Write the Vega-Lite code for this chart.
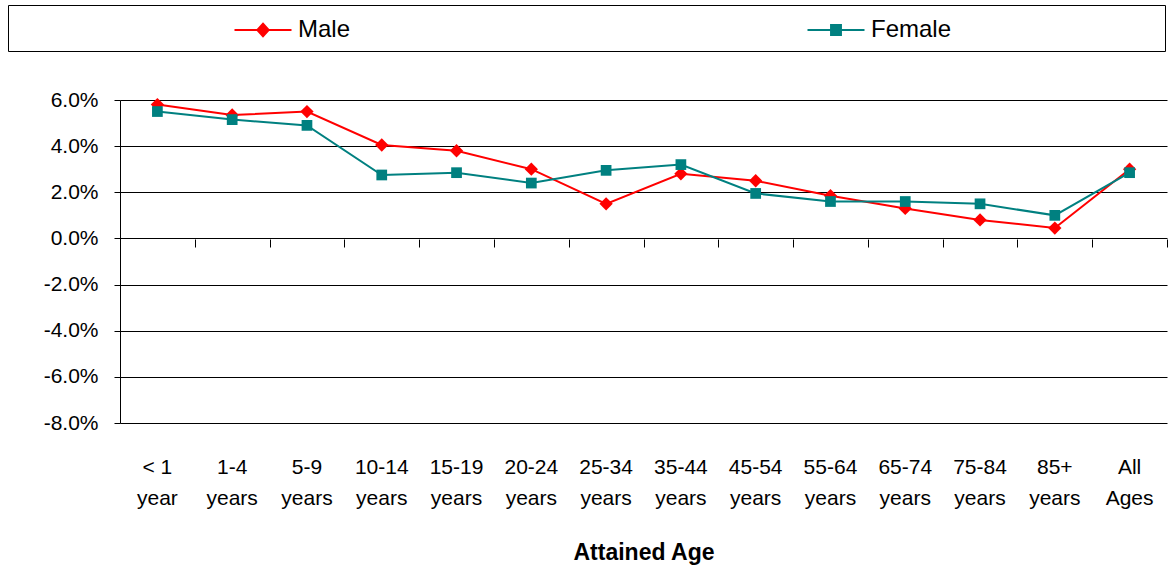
{
  "$schema": "https://vega.github.io/schema/vega-lite/v6.json",
  "width": 1047,
  "height": 323,
  "autosize": {"type": "none"},
  "padding": {"left": 120, "top": 100, "right": 1, "bottom": 144},
  "background": "white",
  "config": {
    "view": {"stroke": null},
    "font": "Liberation Sans, Arial, sans-serif"
  },
  "data": {
    "values": [
      {"age": "< 1 year", "sex": "Male", "rate": 0.058},
      {"age": "1-4 years", "sex": "Male", "rate": 0.0535},
      {"age": "5-9 years", "sex": "Male", "rate": 0.055},
      {"age": "10-14 years", "sex": "Male", "rate": 0.0405},
      {"age": "15-19 years", "sex": "Male", "rate": 0.038},
      {"age": "20-24 years", "sex": "Male", "rate": 0.030},
      {"age": "25-34 years", "sex": "Male", "rate": 0.015},
      {"age": "35-44 years", "sex": "Male", "rate": 0.028},
      {"age": "45-54 years", "sex": "Male", "rate": 0.025},
      {"age": "55-64 years", "sex": "Male", "rate": 0.0185},
      {"age": "65-74 years", "sex": "Male", "rate": 0.013},
      {"age": "75-84 years", "sex": "Male", "rate": 0.008},
      {"age": "85+ years", "sex": "Male", "rate": 0.0045},
      {"age": "All Ages", "sex": "Male", "rate": 0.030},
      {"age": "< 1 year", "sex": "Female", "rate": 0.055},
      {"age": "1-4 years", "sex": "Female", "rate": 0.0515},
      {"age": "5-9 years", "sex": "Female", "rate": 0.049},
      {"age": "10-14 years", "sex": "Female", "rate": 0.0275},
      {"age": "15-19 years", "sex": "Female", "rate": 0.0285},
      {"age": "20-24 years", "sex": "Female", "rate": 0.024},
      {"age": "25-34 years", "sex": "Female", "rate": 0.0295},
      {"age": "35-44 years", "sex": "Female", "rate": 0.032},
      {"age": "45-54 years", "sex": "Female", "rate": 0.0195},
      {"age": "55-64 years", "sex": "Female", "rate": 0.016},
      {"age": "65-74 years", "sex": "Female", "rate": 0.016},
      {"age": "75-84 years", "sex": "Female", "rate": 0.015},
      {"age": "85+ years", "sex": "Female", "rate": 0.010},
      {"age": "All Ages", "sex": "Female", "rate": 0.0285}
    ]
  },
  "encoding": {
    "y": {
      "field": "rate",
      "type": "quantitative",
      "scale": {"domain": [-0.08, 0.06], "nice": false, "zero": false},
      "axis": {
        "title": null,
        "format": ".1%",
        "labelExpr": "replace(datum.label, '\u2212', '-')",
        "values": [-0.08, -0.06, -0.04, -0.02, 0, 0.02, 0.04, 0.06],
        "grid": true,
        "gridColor": "#000",
        "gridOpacity": 1,
        "gridWidth": 1,
        "domainColor": "#000",
        "domainWidth": 1,
        "tickColor": "#000",
        "tickSize": 6,
        "labelFontSize": 21,
        "labelColor": "#000",
        "labelPadding": 16
      }
    }
  },
  "layer": [
    {
      "transform": [{"filter": "datum.sex == 'Male'"}],
      "mark": {"type": "line", "strokeWidth": 2, "color": "#FF0000"},
      "encoding": {
        "x": {
          "field": "age",
          "type": "ordinal",
          "sort": ["< 1 year", "1-4 years", "5-9 years", "10-14 years", "15-19 years", "20-24 years", "25-34 years", "35-44 years", "45-54 years", "55-64 years", "65-74 years", "75-84 years", "85+ years", "All Ages"],
          "scale": {"type": "band", "paddingInner": 0, "paddingOuter": 0},
          "bandPosition": 0.5,
          "axis": {
            "orient": "bottom",
            "title": "Attained Age",
            "titleFontSize": 23,
            "titleFontWeight": "bold",
            "titleColor": "#000",
            "titlePadding": 33,
            "labelAngle": 0,
            "labelFontSize": 21,
            "labelLineHeight": 31,
            "labelPadding": 33,
            "labelBaseline": "top",
            "labelColor": "#000",
            "ticks": false,
            "tickSize": 0,
            "domain": false,
            "grid": false,
            "labelExpr": "datum.value == '< 1 year' ? ['< 1', 'year'] : split(datum.value, ' ')"
          }
        }
      }
    },
    {
      "transform": [{"filter": "datum.sex == 'Male'"}],
      "mark": {"type": "point", "filled": true, "opacity": 1, "shape": "diamond", "size": 177, "color": "#FF0000"},
      "encoding": {
        "x": {
          "field": "age",
          "type": "ordinal",
          "sort": ["< 1 year", "1-4 years", "5-9 years", "10-14 years", "15-19 years", "20-24 years", "25-34 years", "35-44 years", "45-54 years", "55-64 years", "65-74 years", "75-84 years", "85+ years", "All Ages"],
          "bandPosition": 0.5,
          "axis": {
            "orient": "bottom",
            "offset": -184,
            "labels": false,
            "title": null,
            "ticks": true,
            "tickBand": "extent",
            "tickSize": 8,
            "tickColor": "#000",
            "domain": false,
            "grid": false
          }
        }
      }
    },
    {
      "transform": [{"filter": "datum.sex == 'Female'"}],
      "mark": {"type": "line", "strokeWidth": 2, "color": "#008080"},
      "encoding": {
        "x": {
          "field": "age",
          "type": "ordinal",
          "sort": ["< 1 year", "1-4 years", "5-9 years", "10-14 years", "15-19 years", "20-24 years", "25-34 years", "35-44 years", "45-54 years", "55-64 years", "65-74 years", "75-84 years", "85+ years", "All Ages"],
          "bandPosition": 0.5,
          "axis": null
        }
      }
    },
    {
      "transform": [{"filter": "datum.sex == 'Female'"}],
      "mark": {"type": "point", "filled": true, "opacity": 1, "shape": "square", "size": 115, "color": "#008080"},
      "encoding": {
        "x": {
          "field": "age",
          "type": "ordinal",
          "sort": ["< 1 year", "1-4 years", "5-9 years", "10-14 years", "15-19 years", "20-24 years", "25-34 years", "35-44 years", "45-54 years", "55-64 years", "65-74 years", "75-84 years", "85+ years", "All Ages"],
          "bandPosition": 0.5,
          "axis": null
        }
      }
    },
    {
      "transform": [{"filter": "false"}],
      "mark": {"type": "point", "filled": true, "opacity": 1, "strokeWidth": 2},
      "encoding": {
        "x": {
          "field": "age",
          "type": "ordinal",
          "sort": ["< 1 year", "1-4 years", "5-9 years", "10-14 years", "15-19 years", "20-24 years", "25-34 years", "35-44 years", "45-54 years", "55-64 years", "65-74 years", "75-84 years", "85+ years", "All Ages"],
          "bandPosition": 0.5,
          "axis": null
        },
        "color": {
          "field": "sex",
          "type": "nominal",
          "scale": {"domain": ["Male", "Female"], "range": ["#FF0000", "#008080"]},
          "legend": {
            "orient": "none",
            "legendX": -112,
            "legendY": -95,
            "direction": "horizontal",
            "columnPadding": 452,
            "title": "\u00a0",
            "titleOrient": "left",
            "titleFontSize": 2,
            "titlePadding": 230,
            "padding": 9,
            "strokeColor": "#000",
            "fillColor": "#fff",
            "labelFontSize": 24,
            "labelColor": "#000",
            "labelOffset": 19,
            "labelLimit": 800,
            "symbolSize": 900,
            "symbolStrokeWidth": 2,
            "symbolOpacity": 1,
            "labelExpr": "datum.label == 'Female' ? 'Female\u00a0' + pad('', 11, '\u2800') : datum.label"
          }
        },
        "stroke": {
          "field": "sex",
          "type": "nominal",
          "scale": {"domain": ["Male", "Female"], "range": ["#FF0000", "#008080"]}
        },
        "shape": {
          "field": "sex",
          "type": "nominal",
          "scale": {"domain": ["Male", "Female"], "range": ["M-1.9,0H1.9M0,-0.42L0.38,0L0,0.42L-0.38,0Z", "M-1.9,0H1.9M-0.33,-0.33H0.33V0.33H-0.33Z"]}
        }
      }
    }
  ],
  "resolve": {"axis": {"x": "independent"}}
}
